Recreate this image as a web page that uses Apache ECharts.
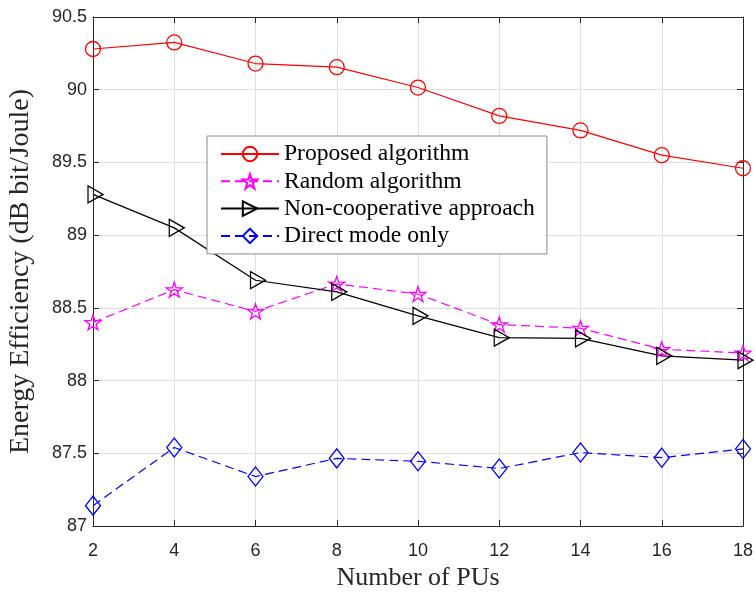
<!DOCTYPE html>
<html>
<head>
<meta charset="utf-8">
<script src="https://cdn.jsdelivr.net/npm/echarts@6/dist/echarts.min.js"></script>
<style>html,body{margin:0;padding:0;background:#fff;}#c{width:756px;height:592px;}</style>
</head>
<body>
<div id="c"></div>
<script>
const numPUs = [2, 4, 6, 8, 10, 12, 14, 16, 18];
const proposed = [90.28, 90.325, 90.18, 90.155, 90.015, 89.82, 89.72, 89.55, 89.46];
const randomAlg = [88.40, 88.625, 88.475, 88.665, 88.595, 88.385, 88.36, 88.215, 88.19];
const nonCoop = [89.28, 89.05, 88.69, 88.61, 88.445, 88.295, 88.29, 88.17, 88.14];
const directMode = [87.14, 87.54, 87.34, 87.465, 87.445, 87.395, 87.505, 87.47, 87.53];
const seriesNames = ['Proposed algorithm', 'Random algorithm', 'Non-cooperative approach', 'Direct mode only'];

const starPath = 'path://M100,0 L122.45,69.1 L195.1,69.1 L136.3,111.8 L158.8,180.9 L100,138.2 L41.2,180.9 L63.7,111.8 L4.9,69.1 L77.55,69.1 Z';
const triPath = 'path://M0,0 L100,50 L0,100 Z';

function pairs(ys) { return numPUs.map((x, i) => [x, ys[i]]); }

const axisColor = '#262626';
const gridColor = '#dfdfdf';
const tickFont = { fontFamily: 'Liberation Sans, Arial, sans-serif', fontSize: 18, color: axisColor };

function mkSeries(name, data, color, dashed, symbol, size, offset) {
  return {
    name: name, type: 'line', data: pairs(data), clip: false,
    symbol: symbol, symbolSize: size, symbolOffset: offset || [0, 0],
    showAllSymbol: true,
    lineStyle: { color: color, width: 1.2, type: dashed ? [9, 5] : 'solid' },
    itemStyle: { color: 'rgba(255,255,255,0)', borderColor: color, borderWidth: 1.3 },
    emphasis: { disabled: true }
  };
}

const chart = echarts.init(document.getElementById('c'), null, { renderer: 'canvas' });
chart.setOption({
  animation: false,
  backgroundColor: '#fff',
  grid: { left: 93, right: 13, top: 17, bottom: 66, containLabel: false, outerBoundsMode: 'none' },
  legend: {
    orient: 'vertical', left: 207, top: 136,
    data: seriesNames,
    itemWidth: 58, itemHeight: 18, itemGap: 3.3,
    padding: [6, 12, 6, 13],
    backgroundColor: '#fff', borderColor: '#8a8a8a', borderWidth: 1, borderRadius: 0,
    textStyle: { fontFamily: 'Liberation Serif, Times New Roman, serif', fontSize: 23.6, color: '#000' }
  },
  xAxis: [{
    type: 'value', min: 2, max: 18, interval: 2, position: 'bottom',
    name: 'Number of PUs', nameLocation: 'middle', nameGap: 39,
    nameTextStyle: { fontFamily: 'Liberation Serif, Times New Roman, serif', fontSize: 26, color: axisColor },
    axisLine: { show: true, onZero: false, lineStyle: { color: axisColor, width: 1 } },
    axisTick: { show: true, inside: true, length: 6, lineStyle: { color: axisColor } },
    axisLabel: Object.assign({ margin: 16 }, tickFont),
    splitLine: { show: true, lineStyle: { color: gridColor, width: 1 } }
  }, {
    type: 'value', min: 2, max: 18, interval: 2, position: 'top',
    axisLine: { show: true, onZero: false, lineStyle: { color: axisColor, width: 1 } },
    axisTick: { show: true, inside: true, length: 6, lineStyle: { color: axisColor } },
    axisLabel: { show: false }, splitLine: { show: false }
  }],
  yAxis: [{
    type: 'value', min: 87, max: 90.5, interval: 0.5, position: 'left',
    name: 'Energy Efficiency (dB bit/Joule)', nameLocation: 'middle', nameGap: 58,
    nameTextStyle: { fontFamily: 'Liberation Serif, Times New Roman, serif', fontSize: 28, color: axisColor },
    axisLine: { show: true, onZero: false, lineStyle: { color: axisColor, width: 1 } },
    axisTick: { show: true, inside: true, length: 6, lineStyle: { color: axisColor } },
    axisLabel: Object.assign({ margin: 6 }, tickFont),
    splitLine: { show: true, lineStyle: { color: gridColor, width: 1 } }
  }, {
    type: 'value', min: 87, max: 90.5, interval: 0.5, position: 'right',
    axisLine: { show: true, onZero: false, lineStyle: { color: axisColor, width: 1 } },
    axisTick: { show: true, inside: true, length: 6, lineStyle: { color: axisColor } },
    axisLabel: { show: false }, splitLine: { show: false }
  }],
  series: [
    mkSeries(seriesNames[0], proposed, '#ff0000', false, 'circle', 15),
    mkSeries(seriesNames[1], randomAlg, '#ff00ff', true, starPath, [16, 15]),
    mkSeries(seriesNames[2], nonCoop, '#000000', false, triPath, [15, 17], [2.5, 0]),
    mkSeries(seriesNames[3], directMode, '#0000ff', true, 'diamond', [15, 19])
  ]
});
</script>
</body>
</html>
